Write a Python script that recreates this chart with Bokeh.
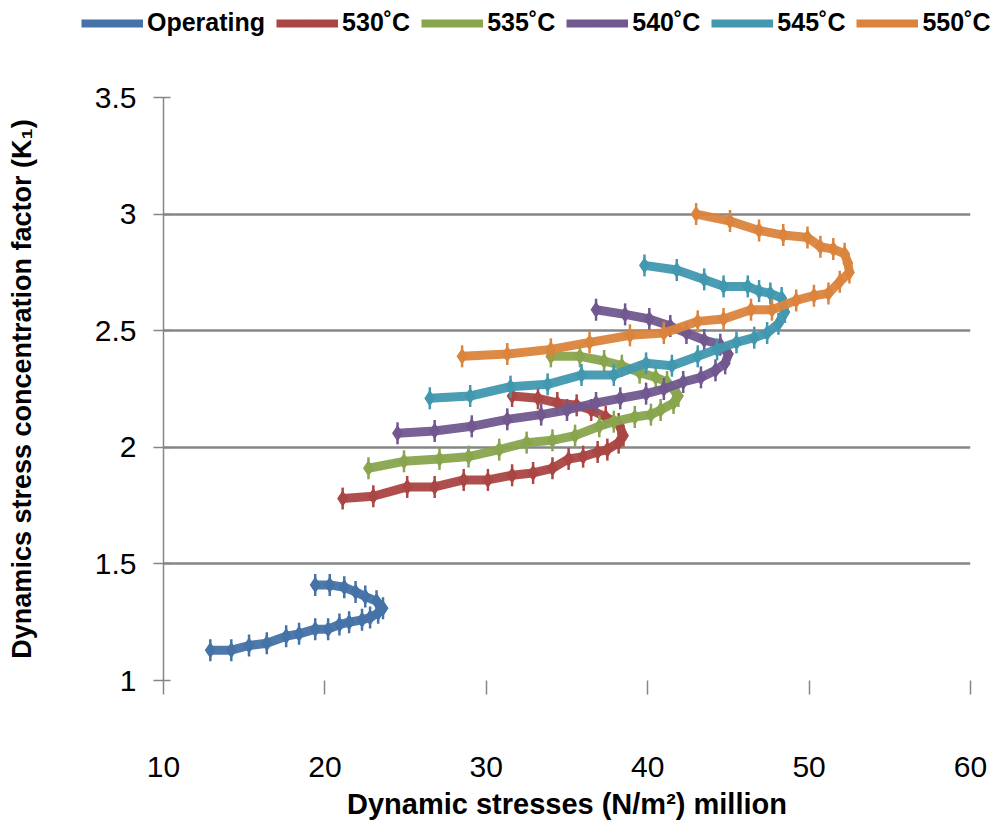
import math
from bokeh.plotting import figure
from bokeh.layouts import column
from bokeh.models import Legend, LegendItem, FixedTicker
from bokeh.embed import file_html
from bokeh.resources import INLINE

# ---- data ----
series_names = ["Operating", "530˚C", "535˚C", "540˚C", "545˚C", "550˚C"]
series_colors = ["#4572A7", "#AA4643", "#89A54E", "#71588F", "#4198AF", "#DB843D"]

op_x = [12.9, 14.2, 15.3, 16.4, 17.6, 18.4, 19.4, 20.2, 20.9, 21.5, 22.3, 22.8, 23.3, 23.6,
        23.2, 22.5, 21.9, 21.2, 20.3, 19.4]
op_y = [1.13, 1.13, 1.15, 1.16, 1.19, 1.20, 1.22, 1.22, 1.24, 1.25, 1.26, 1.27, 1.29, 1.31,
        1.34, 1.36, 1.38, 1.40, 1.41, 1.41]

t530_x = [21.1, 23.0, 25.1, 26.8, 28.6, 30.1, 31.6, 32.9, 34.1, 35.1, 36.0, 36.9, 37.5, 38.2, 38.5,
          38.2, 37.4, 36.5, 35.6, 34.4, 33.2, 31.6]
t530_y = [1.78, 1.79, 1.83, 1.83, 1.86, 1.86, 1.88, 1.89, 1.91, 1.95, 1.96, 1.98, 1.99, 2.02, 2.05,
          2.10, 2.13, 2.16, 2.18, 2.19, 2.21, 2.22]

t535_x = [22.7, 24.9, 27.1, 28.9, 30.8, 32.5, 34.1, 35.5, 37.0, 37.9, 39.2, 40.2, 40.8, 41.6, 41.9,
          41.2, 40.5, 39.5, 38.4, 37.3, 35.8, 34.0]
t535_y = [1.91, 1.94, 1.95, 1.96, 1.99, 2.02, 2.03, 2.05, 2.09, 2.11, 2.13, 2.14, 2.16, 2.19, 2.22,
          2.28, 2.30, 2.32, 2.35, 2.37, 2.39, 2.39]

t540_x = [24.5, 26.8, 29.1, 31.3, 33.4, 35.0, 36.8, 38.3, 39.9, 41.0, 42.2, 43.3, 44.2, 44.8, 45.0,
          44.5, 43.5, 42.4, 41.4, 40.1, 38.6, 36.8]
t540_y = [2.06, 2.07, 2.09, 2.12, 2.14, 2.16, 2.19, 2.21, 2.23, 2.25, 2.28, 2.30, 2.33, 2.36, 2.40,
          2.44, 2.46, 2.49, 2.52, 2.55, 2.57, 2.59]

t545_x = [26.5, 29.0, 31.5, 33.8, 35.9, 37.9, 39.9, 41.5, 43.1, 44.3, 45.5, 46.6, 47.4, 48.1, 48.5,
          48.3, 47.6, 46.9, 46.2, 44.7, 43.5, 41.8, 39.8]
t545_y = [2.21, 2.22, 2.26, 2.27, 2.31, 2.31, 2.36, 2.35, 2.39, 2.42, 2.45, 2.47, 2.49, 2.53, 2.58,
          2.64, 2.66, 2.67, 2.69, 2.69, 2.72, 2.76, 2.78]

t550_x = [28.5, 31.3, 34.0, 36.4, 38.9, 41.0, 43.1, 44.7, 46.4, 47.7, 49.2, 50.3, 51.2, 51.9, 52.5,
          52.4, 52.2, 51.5, 50.7, 49.9, 48.4, 46.9, 45.1, 43.0]
t550_y = [2.39, 2.40, 2.42, 2.45, 2.48, 2.49, 2.54, 2.55, 2.59, 2.59, 2.63, 2.65, 2.66, 2.71, 2.75,
          2.79, 2.83, 2.85, 2.86, 2.90, 2.91, 2.93, 2.97, 3.00]

x_ticks = [10, 20, 30, 40, 50, 60]
y_ticks = [1, 1.5, 2, 2.5, 3, 3.5]
y_grid = [1.5, 2, 2.5, 3, 3.5]

all_x = [op_x, t530_x, t535_x, t540_x, t545_x, t550_x]
all_y = [op_y, t530_y, t535_y, t540_y, t545_y, t550_y]

W = 1000
LEG_H = 45
MAIN_H = 781
grey = "#868686"
tick_font = "Liberation Sans"

can_unalign = True
# ---- legend strip (own small figure, frame = whole strip) ----
lf = figure(width=W, height=LEG_H, x_range=(100, 101), y_range=(100, 101),
            output_backend="svg", toolbar_location=None,
            x_axis_location=None, y_axis_location=None, min_border=0)
lf.grid.visible = False
lf.outline_line_color = None

# ---- main figure ----
p = figure(width=W, height=MAIN_H, x_range=(10, 60), y_range=(1, 3.5),
           output_backend="svg", toolbar_location=None,
           min_border_left=163, min_border_right=W - 970,
           min_border_top=97 - LEG_H, min_border_bottom=MAIN_H - (680 - LEG_H))
p.outline_line_color = None

try:
    lf.frame_align = False
    p.frame_align = False
except Exception:
    can_unalign = False

p.xgrid.visible = False
p.ygrid.ticker = FixedTicker(ticks=y_grid)
p.ygrid.grid_line_color = grey
p.ygrid.grid_line_width = 2.5

p.xaxis.ticker = FixedTicker(ticks=x_ticks)
p.xaxis.axis_line_color = None
p.xaxis.major_tick_line_color = grey
p.xaxis.major_tick_line_width = 1.5
p.xaxis.major_tick_in = 0
p.xaxis.major_tick_out = 14
p.xaxis.minor_tick_line_color = None
p.xaxis.major_label_text_font = tick_font
p.xaxis.major_label_text_font_size = "30px"
p.xaxis.major_label_text_color = "black"
p.xaxis.major_label_standoff = 62
p.xaxis.axis_label = "Dynamic stresses (N/m²) million"
p.xaxis.axis_label_text_font = "Liberation Sans"
p.xaxis.axis_label_text_font_style = "bold"
p.xaxis.axis_label_text_font_size = "29px"
p.xaxis.axis_label_text_color = "black"
p.xaxis.axis_label_standoff = 8

p.yaxis.ticker = FixedTicker(ticks=y_ticks)
p.yaxis.axis_line_color = grey
p.yaxis.axis_line_width = 1.5
p.yaxis.major_tick_line_color = grey
p.yaxis.major_tick_line_width = 1.5
p.yaxis.major_tick_in = 7
p.yaxis.major_tick_out = 10
p.yaxis.minor_tick_line_color = None
p.yaxis.major_label_text_font = tick_font
p.yaxis.major_label_text_font_size = "30px"
p.yaxis.major_label_text_color = "black"
p.yaxis.major_label_standoff = 17
p.yaxis.axis_label = "Dynamics stress concentration factor (K₁)"
p.yaxis.axis_label_text_font = "Liberation Sans"
p.yaxis.axis_label_text_font_style = "bold"
p.yaxis.axis_label_text_font_size = "27px"
p.yaxis.axis_label_text_color = "black"
p.yaxis.axis_label_standoff = 55

items = []
for name, color, xs, ys in zip(series_names, series_colors, all_x, all_y):
    ln = p.line(xs, ys, line_color=color, line_width=9, line_alpha=0.95)
    p.scatter(xs, ys, marker="diamond", size=15, fill_color=color, line_color=color)
    dash = p.scatter(xs, ys, marker="dash", angle=math.pi / 2, size=22,
                     line_color=color, line_width=2.5)
    if can_unalign:
        # same series in the legend strip (outside its ranges: only the legend glyph shows)
        l2 = lf.line(xs, ys, line_color=color, line_width=8)
        d2 = lf.scatter(xs, ys, marker="dash", angle=math.pi / 2, size=22,
                        line_color=color, line_width=2.5)
        items.append(LegendItem(label=name, renderers=[l2, d2]))
    else:
        items.append(LegendItem(label=name, renderers=[ln, dash]))

legend_kw = dict(items=items, orientation="horizontal",
                 label_text_font="Liberation Sans", label_text_font_style="bold",
                 label_text_font_size="25px", label_text_color="black",
                 glyph_width=62, glyph_height=26, label_standoff=4, spacing=11,
                 padding=0, border_line_color=None, background_fill_alpha=0)

if can_unalign:
    legend = Legend(location=(81, 8), margin=0, **legend_kw)
    lf.add_layout(legend, "center")
    out = column(lf, p, spacing=0)
else:
    legend_kw.update(glyph_width=40, spacing=8, label_standoff=3)
    legend = Legend(location="top_left", margin=4, **legend_kw)
    p.add_layout(legend, "above")
    p.height = MAIN_H + LEG_H
    p.min_border_top = 97
    out = p

open("out.html", "w").write(file_html(out, INLINE))
